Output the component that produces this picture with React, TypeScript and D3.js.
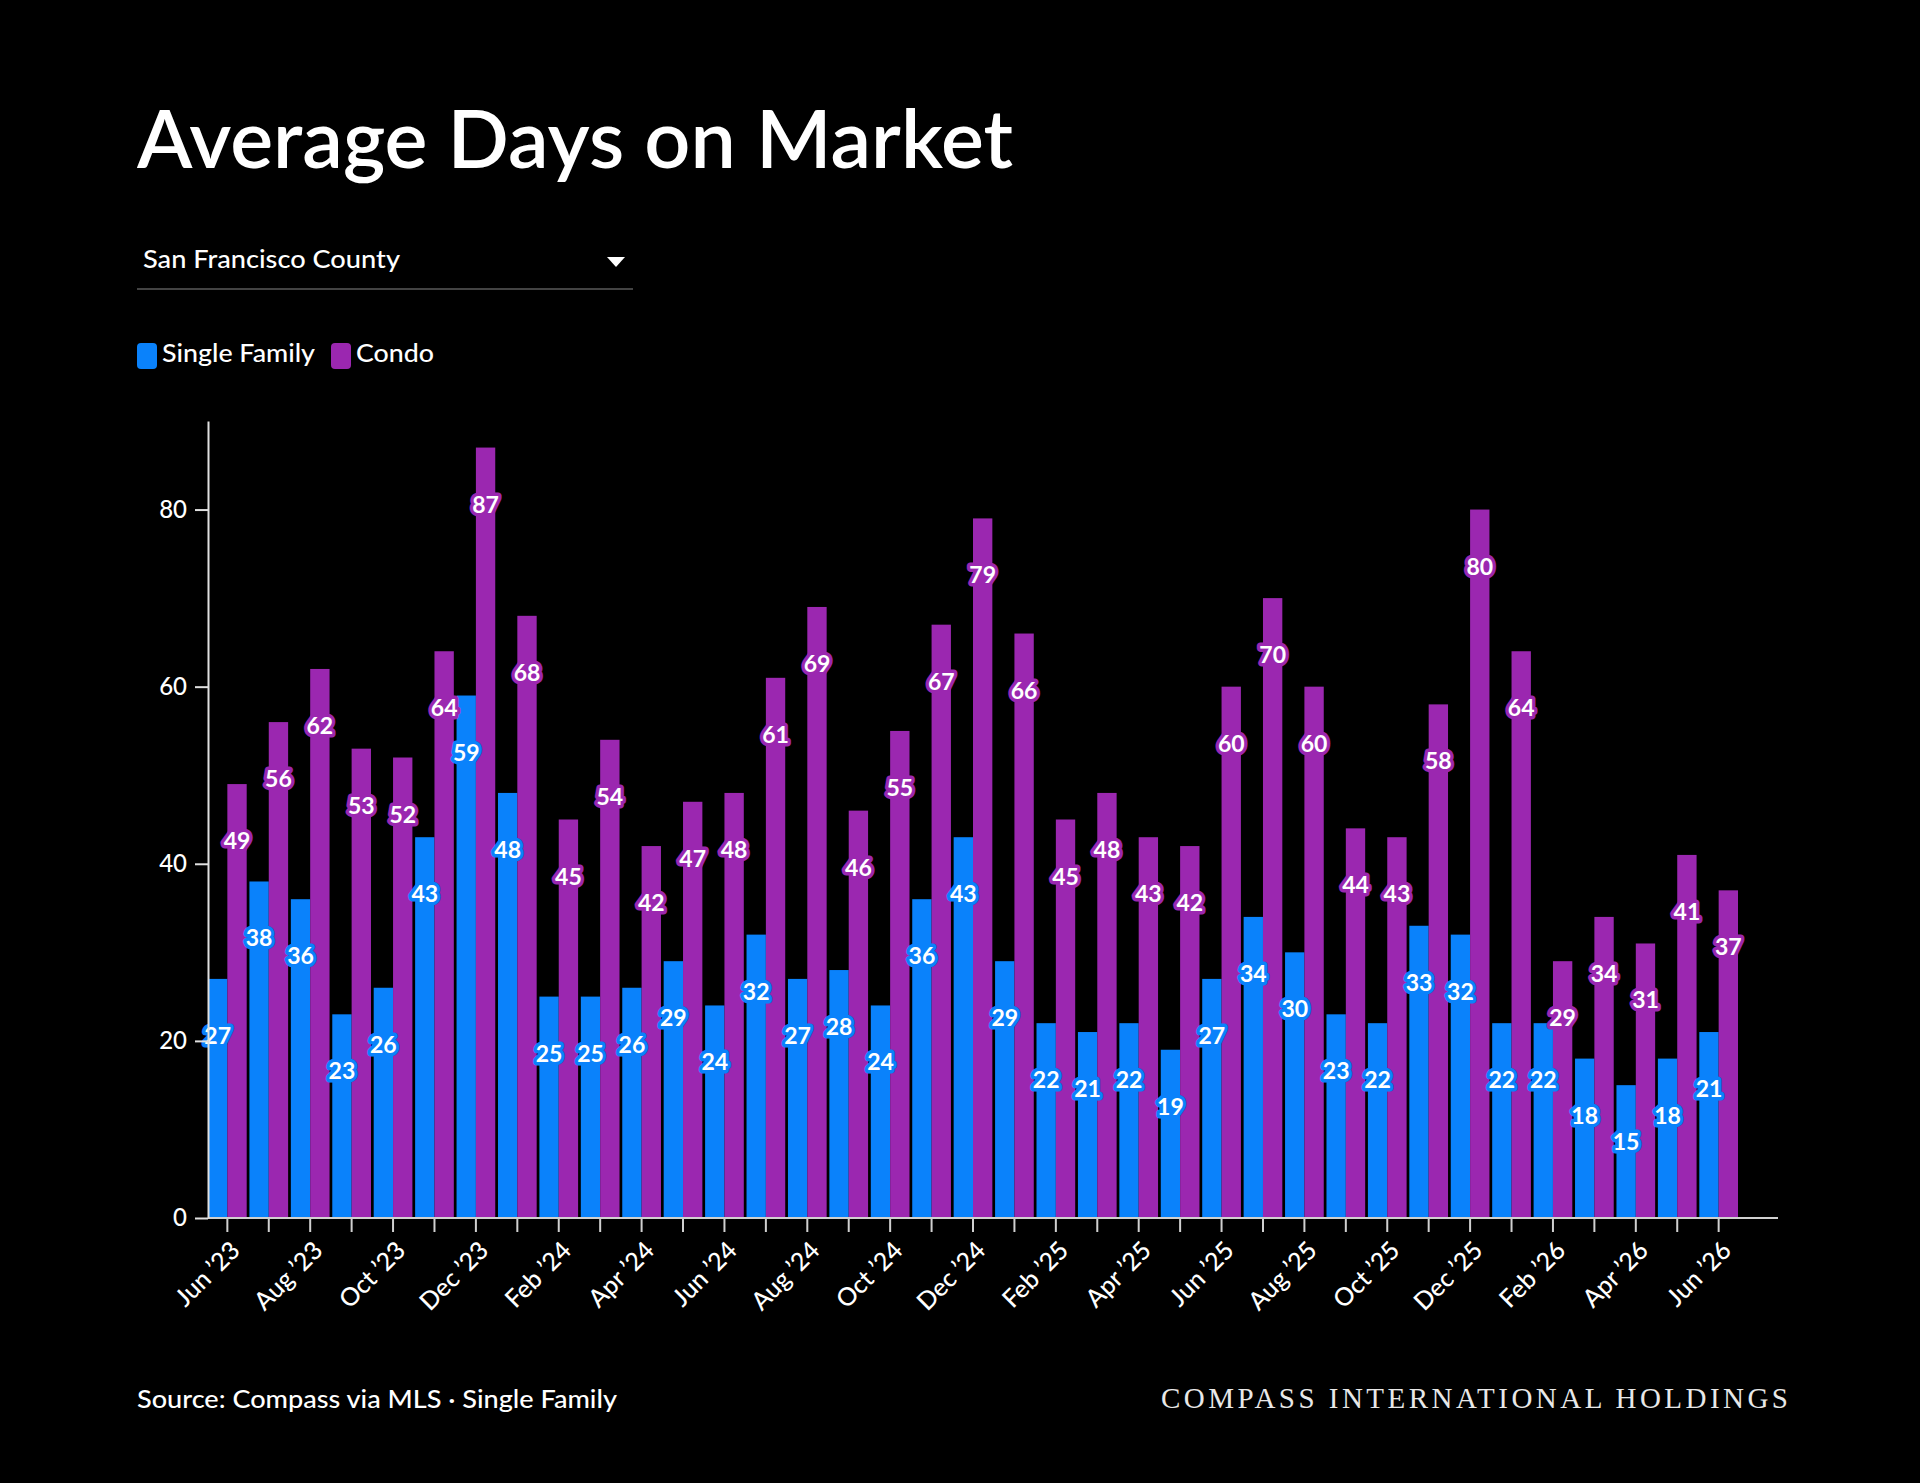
import React, { useRef, useEffect } from "react";
import * as d3 from "d3";

const months = [
  "Jun '23", "Jul '23", "Aug '23", "Sep '23", "Oct '23", "Nov '23", "Dec '23",
  "Jan '24", "Feb '24", "Mar '24", "Apr '24", "May '24", "Jun '24", "Jul '24",
  "Aug '24", "Sep '24", "Oct '24", "Nov '24", "Dec '24", "Jan '25", "Feb '25",
  "Mar '25", "Apr '25", "May '25", "Jun '25", "Jul '25", "Aug '25", "Sep '25",
  "Oct '25", "Nov '25", "Dec '25", "Jan '26", "Feb '26", "Mar '26", "Apr '26",
  "May '26", "Jun '26",
];

const singleFamily = [
  27, 38, 36, 23, 26, 43, 59, 48, 25, 25, 26, 29, 24, 32, 27, 28, 24, 36, 43,
  29, 22, 21, 22, 19, 27, 34, 30, 23, 22, 33, 32, 22, 22, 18, 15, 18, 21,
];

const condo = [
  49, 56, 62, 53, 52, 64, 87, 68, 45, 54, 42, 47, 48, 61, 69, 46, 55, 67, 79,
  66, 45, 48, 43, 42, 60, 70, 60, 44, 43, 58, 80, 64, 29, 34, 31, 41, 37,
];

const seriesNames = ["Single Family", "Condo"];
const seriesColors = ["#0a82fb", "#9b27b0"];
const yTicks = [0, 20, 40, 60, 80];

const FONT = "Lato, 'Noto Sans', sans-serif";

const Chart: React.FC = () => {
  const svgRef = useRef<SVGSVGElement>(null);

  useEffect(() => {
    if (!svgRef.current) return;
    const svg = d3.select(svgRef.current);
    svg.selectAll("*").remove();

    const W = 1920;
    const H = 1483;
    const left = 208;
    const bottom = 1218;
    const top = 421;

    svg.append("rect").attr("width", W).attr("height", H).attr("fill", "#000");

    // title + dropdown + legend
    svg
      .append("text")
      .attr("x", 137)
      .attr("y", 168)
      .attr("fill", "#fff")
      .attr("font-family", FONT)
      .attr("font-weight", 600)
      .attr("font-size", 80)
      .attr("textLength", 876)
      .attr("lengthAdjust", "spacingAndGlyphs")
      .text("Average Days on Market");

    svg
      .append("text")
      .attr("x", 143)
      .attr("y", 268)
      .attr("fill", "#fff")
      .attr("font-family", FONT)
      .attr("font-weight", 500)
      .attr("font-size", 25)
      .attr("textLength", 257)
      .attr("lengthAdjust", "spacingAndGlyphs")
      .text("San Francisco County");

    svg
      .append("path")
      .attr("d", "M607,257 L625,257 L616,267 Z")
      .attr("fill", "#fff");

    svg
      .append("line")
      .attr("x1", 137)
      .attr("x2", 633)
      .attr("y1", 289)
      .attr("y2", 289)
      .attr("stroke", "#5a5a5a")
      .attr("stroke-width", 1.5);

    const legendX = [137, 331];
    const legendW = [153, 78];
    seriesNames.forEach((name, i) => {
      svg
        .append("rect")
        .attr("x", legendX[i])
        .attr("y", 343)
        .attr("width", 20)
        .attr("height", 26)
        .attr("rx", 4)
        .attr("fill", seriesColors[i]);
      svg
        .append("text")
        .attr("x", legendX[i] + 25)
        .attr("y", 362)
        .attr("fill", "#fff")
        .attr("font-family", FONT)
        .attr("font-weight", 500)
        .attr("font-size", 25)
        .attr("textLength", legendW[i])
        .attr("lengthAdjust", "spacingAndGlyphs")
        .text(name);
    });

    // scales
    const x = d3
      .scaleBand<string>()
      .domain(months)
      .range([left, 1738])
      .paddingInner(0.066)
      .paddingOuter(0);
    const xSub = d3
      .scaleBand<number>()
      .domain([0, 1])
      .range([0, x.bandwidth()]);
    const y = d3.scaleLinear().domain([0, 90]).range([bottom, top]);

    // bars
    const series = [singleFamily, condo];
    series.forEach((vals, si) => {
      svg
        .append("g")
        .selectAll("rect")
        .data(vals)
        .enter()
        .append("rect")
        .attr("x", (_, i) => (x(months[i]) as number) + (xSub(si) as number))
        .attr("y", (d) => y(d))
        .attr("width", xSub.bandwidth())
        .attr("height", (d) => bottom - y(d))
        .attr("fill", seriesColors[si]);
    });

    // value labels
    series.forEach((vals, si) => {
      svg
        .append("g")
        .selectAll("text")
        .data(vals)
        .enter()
        .append("text")
        .attr(
          "x",
          (_, i) =>
            (x(months[i]) as number) +
            (xSub(si) as number) +
            xSub.bandwidth() / 2
        )
        .attr("y", (d) => y(d) + 56)
        .attr("text-anchor", "middle")
        .attr("dominant-baseline", "central")
        .attr("font-family", FONT)
        .attr("font-weight", 700)
        .attr("font-size", 23)
        .attr("fill", "#fff")
        .attr("stroke", seriesColors[si])
        .attr("stroke-width", 7)
        .attr("stroke-linejoin", "round")
        .attr("paint-order", "stroke")
        .text((d) => d);
    });

    // x axis
    const xAxis = svg
      .append("g")
      .attr("transform", `translate(0,${bottom})`)
      .call(
        d3
          .axisBottom(x)
          .tickSize(14)
          .tickSizeOuter(0)
          .tickFormat(() => "")
      );
    xAxis.select(".domain").attr("stroke", "#d0d0d0").attr("stroke-width", 2);
    xAxis.select(".domain").attr("d", `M${left},0H1778`);
    xAxis.selectAll(".tick line").attr("stroke", "#d0d0d0").attr("stroke-width", 2);

    svg
      .append("g")
      .selectAll("text")
      .data(months.filter((_, i) => i % 2 === 0))
      .enter()
      .append("text")
      .attr(
        "transform",
        (d) =>
          `translate(${(x(d) as number) + x.bandwidth() / 2 + 7},${bottom + 27}) rotate(-45)`
      )
      .attr("text-anchor", "end")
      .attr("dominant-baseline", "central")
      .attr("font-family", FONT)
      .attr("font-weight", 500)
      .attr("font-size", 25)
      .attr("fill", "#fff")
      .text((d) => d.replace("'", "\u2019"));

    // y axis
    const yAxis = svg
      .append("g")
      .attr("transform", `translate(${left},0)`)
      .call(d3.axisLeft(y).tickValues(yTicks).tickSize(13).tickSizeOuter(0));
    yAxis.select(".domain").attr("stroke", "#e0e0e0").attr("stroke-width", 2);
    yAxis.selectAll(".tick line").attr("stroke", "#e0e0e0").attr("stroke-width", 2);
    yAxis
      .selectAll(".tick text")
      .attr("fill", "#fff")
      .attr("font-family", FONT)
      .attr("font-weight", 500)
      .attr("font-size", 24)
      .attr("x", -21);

    // footer
    svg
      .append("text")
      .attr("x", 137)
      .attr("y", 1408)
      .attr("fill", "#fff")
      .attr("font-family", FONT)
      .attr("font-weight", 500)
      .attr("font-size", 25)
      .attr("textLength", 480)
      .attr("lengthAdjust", "spacingAndGlyphs")
      .text("Source: Compass via MLS \u00b7 Single Family");

    svg
      .append("text")
      .attr("x", 1161)
      .attr("y", 1408)
      .attr("fill", "#e8e8e8")
      .attr("font-family", "'Liberation Serif', 'DejaVu Serif', serif")
      .attr("font-size", 29)
      .attr("textLength", 627)
      .attr("lengthAdjust", "spacing")
      .text("COMPASS INTERNATIONAL HOLDINGS");
  }, []);

  return <svg ref={svgRef} width={1920} height={1483} style={{ display: "block" }} />;
};

export default function App() {
  return (
    <div style={{ position: "absolute", left: 0, top: 0, background: "#000" }}>
      <Chart />
    </div>
  );
}
